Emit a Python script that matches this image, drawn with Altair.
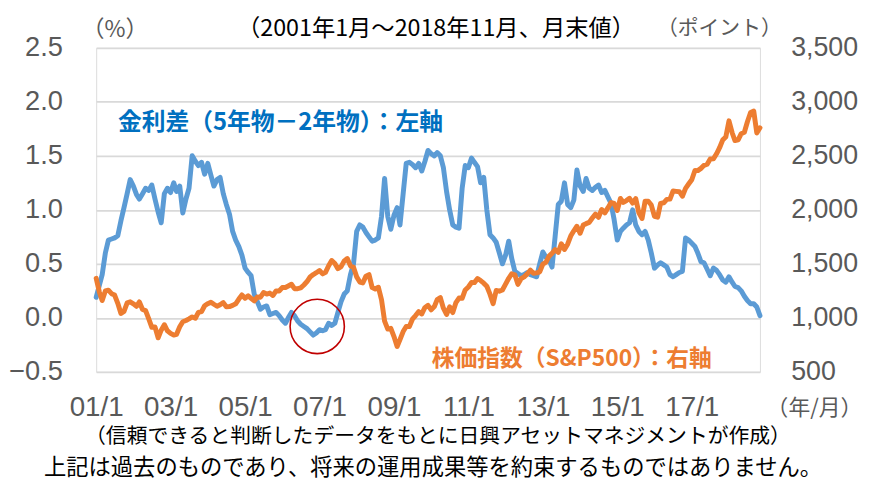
import altair as alt
import pandas as pd

# ---- data (monthly, month-end) ----
months = pd.date_range("2001-01-01", "2018-11-01", freq="MS").strftime("%Y/%m/%d").tolist()

spread_2001 = [0.19, 0.30, 0.40, 0.60, 0.72, 0.73, 0.74, 0.76, 0.90, 1.02, 1.15, 1.28]
spread_2002 = [1.22, 1.14, 1.10, 1.15, 1.20, 1.18, 1.23, 1.10, 0.98, 0.88, 1.15, 1.20]
spread_2003 = [1.16, 1.25, 1.17, 1.22, 0.97, 1.10, 1.20, 1.50, 1.45, 1.41, 1.44, 1.33]
spread_2004 = [1.43, 1.32, 1.22, 1.28, 1.30, 1.15, 1.05, 0.96, 0.80, 0.72, 0.66, 0.58]
spread_2005 = [0.46, 0.42, 0.39, 0.22, 0.15, 0.08, 0.10, 0.11, 0.03, 0.04, 0.05, 0.02]
spread_2006 = [-0.02, -0.05, 0.00, 0.05, 0.02, -0.03, -0.06, -0.08, -0.10, -0.13, -0.16, -0.14]
spread_2007 = [-0.11, -0.12, -0.11, -0.05, -0.07, -0.05, 0.05, 0.15, 0.22, 0.25, 0.40, 0.50]
spread_2008 = [0.80, 0.86, 0.84, 0.79, 0.75, 0.71, 0.72, 0.74, 0.94, 1.29, 0.94, 0.82]
spread_2009 = [0.95, 1.02, 0.86, 1.15, 1.43, 1.44, 1.42, 1.39, 1.43, 1.36, 1.45, 1.55]
spread_2010 = [1.52, 1.50, 1.53, 1.50, 1.39, 1.17, 1.00, 0.86, 0.84, 0.83, 1.20, 1.41]
spread_2011 = [1.39, 1.48, 1.44, 1.40, 1.25, 1.30, 1.00, 0.77, 0.74, 0.70, 0.60, 0.50]
spread_2012 = [0.58, 0.71, 0.55, 0.43, 0.41, 0.39, 0.40, 0.42, 0.40, 0.39, 0.38, 0.50]
spread_2013 = [0.61, 0.56, 0.54, 0.47, 0.75, 1.05, 1.08, 1.25, 1.05, 1.02, 1.09, 1.37]
spread_2014 = [1.22, 1.17, 1.29, 1.20, 1.18, 1.21, 1.23, 1.16, 1.18, 1.12, 1.06, 0.91]
spread_2015 = [0.72, 0.80, 0.83, 0.86, 0.88, 1.00, 0.86, 0.80, 0.77, 0.80, 0.72, 0.60]
spread_2016 = [0.46, 0.49, 0.51, 0.49, 0.47, 0.40, 0.38, 0.40, 0.42, 0.43, 0.74, 0.72]
spread_2017 = [0.69, 0.66, 0.60, 0.52, 0.51, 0.45, 0.39, 0.46, 0.44, 0.40, 0.35, 0.33]
spread_2018 = [0.38, 0.33, 0.29, 0.28, 0.25, 0.20, 0.16, 0.13, 0.13, 0.10, 0.02]

sp_2001 = [1366, 1240, 1160, 1249, 1256, 1224, 1211, 1134, 1041, 1060, 1139, 1148]
sp_2002 = [1130, 1107, 1147, 1077, 1067, 990, 912, 916, 815, 886, 936, 880]
sp_2003 = [856, 841, 848, 917, 964, 975, 990, 1008, 996, 1051, 1058, 1112]
sp_2004 = [1131, 1145, 1126, 1107, 1121, 1141, 1102, 1104, 1115, 1130, 1174, 1212]
sp_2005 = [1181, 1204, 1181, 1157, 1192, 1191, 1234, 1220, 1229, 1207, 1249, 1248]
sp_2006 = [1280, 1281, 1295, 1311, 1270, 1270, 1277, 1304, 1336, 1378, 1401, 1418]
sp_2007 = [1438, 1407, 1421, 1482, 1531, 1503, 1455, 1474, 1527, 1549, 1481, 1468]
sp_2008 = [1379, 1331, 1323, 1386, 1400, 1280, 1267, 1283, 1166, 969, 896, 903]
sp_2009 = [826, 735, 798, 873, 919, 919, 987, 1021, 1057, 1036, 1096, 1115]
sp_2010 = [1074, 1104, 1169, 1187, 1089, 1031, 1102, 1049, 1141, 1183, 1181, 1258]
sp_2011 = [1286, 1327, 1326, 1364, 1345, 1321, 1292, 1219, 1131, 1253, 1247, 1258]
sp_2012 = [1312, 1366, 1408, 1398, 1310, 1362, 1379, 1407, 1441, 1412, 1416, 1426]
sp_2013 = [1498, 1515, 1569, 1598, 1631, 1606, 1686, 1633, 1682, 1757, 1806, 1848]
sp_2014 = [1783, 1859, 1872, 1884, 1924, 1960, 1931, 2003, 1972, 2018, 2068, 2059]
sp_2015 = [1995, 2105, 2068, 2086, 2107, 2063, 2104, 1972, 1920, 2079, 2080, 2044]
sp_2016 = [1940, 1932, 2060, 2065, 2097, 2099, 2174, 2171, 2168, 2126, 2199, 2239]
sp_2017 = [2279, 2364, 2363, 2384, 2412, 2423, 2470, 2472, 2519, 2575, 2648, 2674]
sp_2018 = [2824, 2714, 2641, 2648, 2705, 2718, 2816, 2902, 2914, 2712, 2760]

spread = (spread_2001 + spread_2002 + spread_2003 + spread_2004 + spread_2005 + spread_2006
          + spread_2007 + spread_2008 + spread_2009 + spread_2010 + spread_2011 + spread_2012
          + spread_2013 + spread_2014 + spread_2015 + spread_2016 + spread_2017 + spread_2018)
sp500 = (sp_2001 + sp_2002 + sp_2003 + sp_2004 + sp_2005 + sp_2006 + sp_2007 + sp_2008
         + sp_2009 + sp_2010 + sp_2011 + sp_2012 + sp_2013 + sp_2014 + sp_2015 + sp_2016
         + sp_2017 + sp_2018)

left_ticks = [-0.5, 0.0, 0.5, 1.0, 1.5, 2.0, 2.5]
right_ticks = [500, 1000, 1500, 2000, 2500, 3000, 3500]
x_tick_years = [2001, 2003, 2005, 2007, 2009, 2011, 2013, 2015, 2017]

# annotation circle (around the 2006-07 inversion)
circle_date = ["2006/12/10"]
circle_val = [-0.08]

df = pd.DataFrame({"date": months, "spread": spread, "sp500": sp500})
circ = pd.DataFrame({"date": circle_date, "spread": circle_val})

FONT_NUM = "Liberation Sans"
FONT_JP = "Noto Sans CJK JP"
GRAY = "#595959"
BLUE = "#5B9BD5"
ORANGE = "#ED7D31"

x_enc = alt.X(
    "date:T",
    scale=alt.Scale(domain=[alt.DateTime(year=2001, month=1, date=1),
                            alt.DateTime(year=2018, month=11, date=1)]),
    axis=alt.Axis(values=[alt.DateTime(year=y, month=1, date=1) for y in x_tick_years],
                  format="%y/%-m", labelFont=FONT_NUM, labelFontSize=28, labelColor=GRAY,
                  ticks=False, domain=False, grid=False, labelPadding=22, title=None,
                  labelFlush=False, labelOverlap=False),
)

y_left = alt.Y(
    "spread:Q",
    scale=alt.Scale(domain=[-0.5, 2.5], nice=False, zero=False),
    axis=alt.Axis(values=left_ticks, format=".1f", grid=True, gridColor="#D9D9D9", gridWidth=1.8,
                  ticks=False, domain=False, labelFont=FONT_NUM, labelFontSize=27.5,
                  labelColor=GRAY, labelPadding=34, title=None),
)

y_right = alt.Y(
    "sp500:Q",
    scale=alt.Scale(domain=[500, 3500], nice=False, zero=False),
    axis=alt.Axis(orient="right", values=right_ticks, format=",.0f", grid=False, ticks=False,
                  domain=False, labelFont=FONT_NUM, labelFontSize=27, labelColor=GRAY,
                  labelPadding=31, title=None),
)

blue_line = alt.Chart(df).mark_line(color=BLUE, strokeWidth=5, strokeJoin="round",
                                    strokeCap="round").encode(x=x_enc, y=y_left)

circle = alt.Chart(circ).mark_point(shape="circle", size=3000, filled=False, color="#C00000",
                                    strokeWidth=1.6, opacity=1).encode(
    x=alt.X("date:T"), y=alt.Y("spread:Q"))


def txt(text, x, y, size, color, weight="normal", font=FONT_JP, align="center"):
    return alt.Chart(pd.DataFrame({"t": [text]})).mark_text(
        font=font, fontSize=size, color=color, fontWeight=weight, align=align,
        baseline="middle").encode(x=alt.value(x), y=alt.value(y), text="t:N")


texts = [
    txt("（%）", 19, -18, 23, GRAY),
    txt("（2001年1月～2018年11月、月末値）", 343, -19, 23.5, "#000000"),
    txt("（ポイント）", 629, -19, 21, GRAY),
    txt("金利差（5年物－2年物）：左軸", 186, 76, 24, "#0070C0", weight="bold"),
    txt("株価指数（S&P500）：右軸", 480, 314, 23, ORANGE, weight="bold"),
    txt("（年/月）", 725, 364, 22, GRAY),
    txt("（信頼できると判断したデータをもとに日興アセットマネジメントが作成）", 345, 393, 21, "#000000"),
    txt("上記は過去のものであり、将来の運用成果等を約束するものではありません。", 340, 424, 22.5, "#000000"),
]

left_group = alt.layer(blue_line, circle, *texts)

orange_line = alt.Chart(df).mark_line(color=ORANGE, strokeWidth=5, strokeJoin="round",
                                      strokeCap="round").encode(x=x_enc, y=y_right)

chart = alt.layer(left_group, orange_line).resolve_scale(y="independent").properties(
    width=670, height=327,
    autosize=alt.AutoSizeParams(type="none"),
    padding={"left": 89, "top": 38, "right": 103, "bottom": 110},
).configure_view(stroke=None).configure(background="white")

chart.save("out.html", embed_options={"renderer": "svg", "actions": False})
